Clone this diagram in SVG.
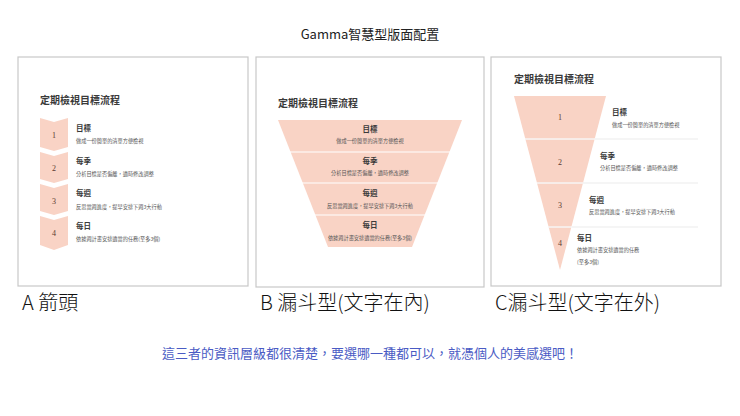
<svg xmlns="http://www.w3.org/2000/svg" width="740" height="416" viewBox="0 0 740 416">
<style>
text{font-family:"Noto Sans CJK TC","Noto Sans",sans-serif}
.panel{fill:#fff;stroke:#c8c8c8;stroke-width:1.2}
.shape{fill:#f9d3c5}
.t{font-size:10px;font-weight:bold;fill:#3a3a3a}
.h{font-size:7.5px;font-weight:bold;fill:#3a3a3a}
.d{font-size:5.2px;fill:#555}
.n{font-size:8px;fill:#5a3a30;font-family:"Liberation Serif",serif}
.cap{font-size:20px;fill:#111;font-weight:300}
.sep{stroke:#e6e6e6;stroke-width:0.8}
</style>
<rect width="740" height="416" fill="#fff"/>
<text x="370" y="39" text-anchor="middle" font-size="13" fill="#222">Gamma智慧型版面配置</text>

<g id="panelA">
<rect class="panel" x="18" y="57" width="230" height="229"/>
<text class="t" x="40" y="104">定期檢視目標流程</text>
<path class="shape" d="M40,118 L54,122 L68,118 L68,147 L54,151 L40,147Z"/>
<path class="shape" d="M40,152 L54,156 L68,152 L68,179 L54,183 L40,179Z"/>
<path class="shape" d="M40,184 L54,188 L68,184 L68,211 L54,215 L40,211Z"/>
<path class="shape" d="M40,216 L54,220 L68,216 L68,245 L54,250 L40,245Z"/>
<text class="n" x="54" y="138" text-anchor="middle">1</text>
<text class="n" x="54" y="171" text-anchor="middle">2</text>
<text class="n" x="54" y="204" text-anchor="middle">3</text>
<text class="n" x="54" y="236" text-anchor="middle">4</text>
<text class="h" x="76" y="131">目標</text><text class="d" x="76" y="143">做成一份簡單的清單方便檢視</text>
<text class="h" x="76" y="164">每季</text><text class="d" x="76" y="176">分析目標是否偏離，適時修改調整</text>
<text class="h" x="76" y="196">每週</text><text class="d" x="76" y="209">反思當週進度，提早安排下週3大行動</text>
<text class="h" x="76" y="229">每日</text><text class="d" x="76" y="241">依據週計畫安排適當的任務(至多3個)</text>
</g>

<g id="panelB">
<rect class="panel" x="256" y="57" width="228" height="230"/>
<text class="t" x="278" y="107">定期檢視目標流程</text>
<path class="shape" d="M278,120 L462,120 L412,247 L328,247Z"/>
<g stroke="#fff" stroke-width="1.2">
<line x1="290" y1="152" x2="450" y2="152"/><line x1="302" y1="183" x2="438" y2="183"/><line x1="315" y1="215" x2="425" y2="215"/>
</g>
<g text-anchor="middle">
<text class="h" x="370" y="132">目標</text><text class="d" x="370" y="143">做成一份簡單的清單方便檢視</text>
<text class="h" x="370" y="164">每季</text><text class="d" x="370" y="175">分析目標是否偏離，適時修改調整</text>
<text class="h" x="370" y="196">每週</text><text class="d" x="370" y="208">反思當週進度，提早安排下週3大行動</text>
<text class="h" x="370" y="228">每日</text><text class="d" x="370" y="240">依據週計畫安排適當的任務(至多3個)</text>
</g>
</g>

<g id="panelC">
<rect class="panel" x="491" y="57" width="230" height="229"/>
<text class="t" x="514" y="83">定期檢視目標流程</text>
<path class="shape" d="M514,96 L606,96 L560,270Z"/>
<line class="sep" x1="525" y1="139" x2="698" y2="139"/>
<line class="sep" x1="537" y1="183" x2="698" y2="183"/>
<line class="sep" x1="548" y1="227" x2="698" y2="227"/>
<g stroke="#fff" stroke-width="1"><line x1="525" y1="139" x2="595" y2="139"/><line x1="537" y1="183" x2="583" y2="183"/><line x1="548" y1="227" x2="572" y2="227"/></g>
<text class="n" x="560" y="120" text-anchor="middle">1</text>
<text class="n" x="560" y="165" text-anchor="middle">2</text>
<text class="n" x="560" y="208" text-anchor="middle">3</text>
<text class="n" x="560" y="246" text-anchor="middle">4</text>
<text class="h" x="612" y="115">目標</text><text class="d" x="612" y="127">做成一份簡單的清單方便檢視</text>
<text class="h" x="600" y="159">每季</text><text class="d" x="600" y="170">分析目標是否偏離，適時修改調整</text>
<text class="h" x="589" y="203">每週</text><text class="d" x="589" y="214">反思當週進度，提早安排下週3大行動</text>
<text class="h" x="577" y="241">每日</text><text class="d" x="577" y="252">依據週計畫安排適當的任務</text><text class="d" x="577" y="264">(至多3個)</text>
</g>

<text class="cap" x="22" y="310">A 箭頭</text>
<text class="cap" x="260" y="310">B 漏斗型(文字在內)</text>
<text class="cap" x="495" y="310">C漏斗型(文字在外)</text>
<text x="370" y="358" text-anchor="middle" font-size="13" fill="#4a5bc4">這三者的資訊層級都很清楚，要選哪一種都可以，就憑個人的美感選吧！</text>
</svg>
